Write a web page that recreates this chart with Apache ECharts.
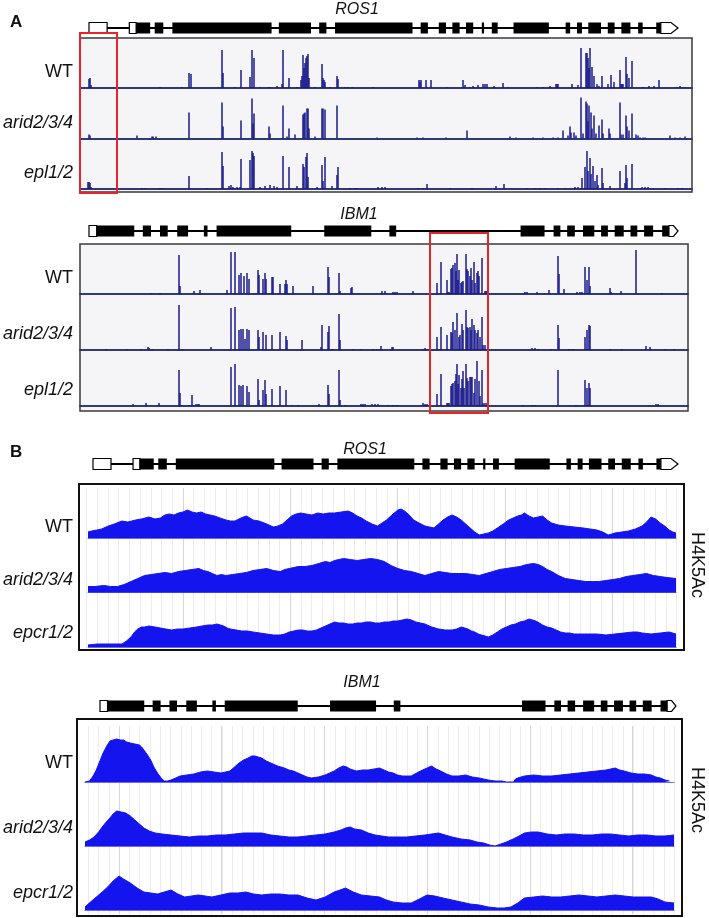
<!DOCTYPE html>
<html><head><meta charset="utf-8">
<script src="https://cdn.jsdelivr.net/npm/echarts@6/dist/echarts.min.js"></script>
<style>html,body{margin:0;padding:0;background:#fff}#c{width:709px;height:918px}</style>
</head><body><div id="c"></div><script>
// ---------- gene structures: [start, end, kind] kind 0=UTR box, 1=CDS exon, 2=3' UTR arrow
const ROS1_LEN = 1300;
const ROS1_EXONS = [[0,40,0],[89,104,0],[104,135,1],[145,164,1],[184,403,1],[419,490,1],[508,524,1],[543,714,1],[732,748,1],[772,788,1],[802,818,1],[832,848,1],[867,872,1],[889,902,1],[937,1015,1],[1052,1062,1],[1077,1088,1],[1102,1130,1],[1145,1160,1],[1175,1195,1],[1212,1222,1],[1252,1262,1],[1262,1300,2]];
const IBM1_LEN = 1302;
const IBM1_EXONS = [[0,17,0],[17,100,1],[119,137,1],[157,174,1],[195,219,1],[254,262,1],[282,447,1],[520,624,1],[664,679,1],[954,1007,1],[1027,1042,1],[1057,1074,1],[1092,1117,1],[1132,1147,1],[1162,1182,1],[1197,1212,1],[1227,1247,1],[1267,1282,1],[1282,1302,2]];

// ---------- panel A : read coverage spikes [position, height]
const ROS1_A_WT = [[9,9],[10,10],[11,3],[80,1],[102,1],[109,15],[111,14],[142,38],[143,15],[155,1],[161,18],[170,11],[172,38],[174,30],[180,1],[188,1],[190,1],[197,2],[202,4],[203,38],[209,10],[217,1],[221,8],[222,12],[223,33],[224,20],[225,25],[226,30],[227,32],[228,34],[229,10],[235,1],[242,24],[243,10],[244,8],[245,6],[250,1],[257,12],[258,9],[265,1],[268,1],[272,1],[293,1],[339,8],[340,6],[341,8],[346,8],[351,8],[367,1],[383,8],[385,3],[390,1],[393,2],[398,3],[403,4],[405,4],[407,4],[414,2],[423,5],[428,1],[457,1],[463,1],[470,2],[476,4],[477,4],[478,4],[492,4],[498,3],[501,40],[506,35],[507,35],[508,30],[509,20],[510,40],[512,21],[514,12],[517,4],[519,2],[522,12],[528,4],[531,13],[534,6],[540,18],[541,4],[542,4],[543,4],[546,31],[547,14],[549,10],[552,27],[563,1],[569,2],[574,2],[579,8],[596,1],[600,2],[605,1]];
const ROS1_A_ARID = [[9,4],[10,3],[57,3],[72,2],[73,2],[76,2],[109,26],[142,36],[143,12],[161,18],[172,40],[173,15],[174,25],[189,12],[190,5],[203,33],[207,2],[209,10],[215,4],[223,24],[224,25],[225,26],[227,30],[228,30],[229,10],[235,2],[242,30],[243,30],[245,29],[257,33],[297,1],[337,1],[343,1],[366,1],[387,8],[430,2],[436,1],[453,1],[463,1],[473,1],[478,1],[483,8],[488,3],[490,12],[491,6],[494,6],[496,3],[501,41],[503,5],[506,37],[507,35],[508,17],[509,33],[511,26],[512,10],[514,23],[516,5],[519,13],[522,19],[523,5],[529,10],[530,5],[540,36],[541,4],[543,4],[546,23],[547,12],[549,8],[552,25],[556,4],[558,3],[560,1],[563,1],[565,1],[590,3],[595,1],[600,1],[605,2]];
const ROS1_A_EPL = [[8,7],[9,7],[10,6],[11,2],[62,1],[65,1],[80,1],[83,1],[109,13],[127,1],[142,37],[143,23],[149,3],[151,4],[153,2],[157,2],[160,2],[161,30],[170,29],[172,38],[173,36],[174,33],[180,2],[185,3],[190,4],[194,3],[197,2],[203,33],[209,22],[217,3],[223,25],[224,22],[226,32],[227,36],[228,12],[237,2],[242,24],[243,8],[245,32],[252,3],[257,14],[258,22],[270,1],[275,1],[277,1],[298,2],[302,2],[305,2],[338,1],[343,1],[347,5],[370,1],[392,1],[416,3],[424,5],[447,1],[455,1],[460,1],[465,1],[478,1],[485,1],[490,1],[495,2],[498,2],[502,11],[505,22],[507,38],[508,18],[510,31],[511,15],[513,23],[515,8],[517,14],[518,4],[522,21],[523,6],[530,3],[540,18],[545,6],[546,24],[547,11],[552,25],[562,2],[565,2],[568,2],[573,1],[585,1],[598,1],[602,1]];
const ROS1_A_REGION = [0, 37];

const IBM1_A_WT = [[71,1],[80,1],[99,39],[100,8],[114,3],[120,4],[147,4],[151,42],[155,42],[159,19],[161,21],[164,18],[167,21],[169,15],[178,24],[179,19],[183,15],[185,21],[186,15],[192,17],[193,17],[200,10],[205,10],[206,14],[207,10],[213,8],[233,8],[248,27],[249,17],[259,21],[260,3],[271,6],[272,7],[302,3],[305,3],[313,2],[315,2],[317,2],[333,3],[357,11],[361,32],[367,14],[368,2],[369,2],[371,25],[372,26],[373,29],[375,31],[376,23],[377,40],[378,14],[379,24],[381,11],[382,12],[383,13],[386,40],[387,25],[388,23],[390,18],[391,26],[392,14],[394,32],[395,11],[397,21],[398,23],[399,18],[402,36],[405,3],[406,3],[407,3],[445,2],[447,2],[457,2],[469,4],[478,38],[479,20],[484,5],[497,2],[500,2],[502,2],[505,27],[507,14],[509,27],[510,8],[530,6],[531,2],[541,3],[556,44],[582,1]];
const IBM1_A_ARID = [[26,1],[47,1],[61,1],[68,3],[69,2],[72,1],[88,1],[99,45],[102,1],[131,3],[151,42],[155,43],[159,20],[161,21],[163,21],[165,11],[167,21],[169,20],[178,20],[179,13],[183,18],[186,15],[192,15],[200,18],[206,14],[207,10],[222,10],[241,3],[242,25],[248,18],[249,24],[252,1],[253,1],[259,36],[260,10],[273,1],[281,1],[293,1],[301,4],[312,3],[313,3],[343,1],[345,2],[347,1],[357,13],[361,23],[367,15],[371,18],[372,17],[373,28],[375,20],[377,37],[379,13],[380,15],[382,26],[383,20],[386,40],[387,23],[388,22],[390,23],[391,20],[392,31],[394,25],[395,20],[397,17],[398,20],[400,13],[402,33],[403,5],[405,5],[452,2],[455,2],[458,1],[471,1],[478,25],[479,12],[489,1],[493,1],[505,13],[507,20],[509,25],[510,24],[530,1],[542,1],[566,4],[570,3],[585,1],[594,1]];
const IBM1_A_EPL = [[53,2],[66,3],[79,3],[99,36],[100,13],[102,1],[109,1],[112,11],[116,2],[118,2],[119,2],[151,39],[155,42],[159,21],[161,20],[163,21],[167,20],[169,14],[178,27],[179,6],[183,16],[185,26],[186,12],[192,17],[200,20],[206,16],[212,1],[218,1],[239,2],[248,21],[249,12],[259,36],[260,6],[265,1],[281,2],[283,2],[285,2],[292,2],[295,2],[298,2],[308,1],[313,1],[317,1],[343,3],[345,2],[347,2],[357,12],[361,32],[367,3],[368,3],[369,3],[371,20],[372,22],[373,23],[375,25],[376,32],[377,42],[378,22],[379,31],[381,18],[382,27],[383,35],[384,18],[386,42],[387,28],[388,25],[390,29],[391,29],[392,29],[394,13],[395,27],[397,45],[399,25],[400,10],[402,36],[403,3],[405,3],[407,3],[443,1],[452,1],[455,1],[478,36],[496,1],[505,26],[507,18],[509,23],[510,18],[576,2],[578,2]];
const IBM1_A_REGION = [350, 408];

// ---------- panel B : H4K5Ac ChIP profiles [position, signal]
const ROS1_B_WT = [[0,6],[8,7],[20,8],[30,9],[45,12],[58,14],[75,17],[88,16],[105,18],[118,19],[135,21],[148,19],[160,20],[170,23],[180,24],[190,23],[200,25],[210,26],[220,28],[230,26],[240,25],[250,26],[260,24],[270,23],[280,22],[292,20],[305,18],[315,17],[325,17],[338,20],[350,22],[358,20],[365,18],[378,17],[390,15],[400,13],[410,11],[420,12],[430,14],[440,18],[450,22],[460,24],[470,25],[482,24],[495,23],[508,25],[520,24],[532,25],[545,25],[560,26],[575,27],[585,25],[595,22],[605,20],[615,17],[628,14],[640,12],[650,15],[660,18],[672,23],[685,28],[692,29],[700,27],[710,23],[720,18],[732,15],[745,12],[755,11],[765,10],[775,14],[785,18],[795,21],[805,23],[815,21],[825,18],[835,14],[845,10],[855,6],[865,3],[875,4],[885,5],[895,7],[905,10],[918,14],[930,18],[940,20],[950,22],[958,23],[965,25],[975,22],[985,20],[995,21],[1005,22],[1015,18],[1025,15],[1040,13],[1055,12],[1075,11],[1095,10],[1110,9],[1125,8],[1138,6],[1150,3],[1158,4],[1165,5],[1180,6],[1195,7],[1210,9],[1225,12],[1235,16],[1245,21],[1255,19],[1265,15],[1275,12],[1285,8],[1293,6],[1300,5]];
const ROS1_B_ARID = [[0,6],[15,6],[35,7],[50,6],[65,6],[80,8],[95,11],[110,14],[125,17],[140,18],[155,19],[170,20],[185,19],[200,21],[215,22],[230,23],[245,24],[255,22],[265,21],[275,19],[285,17],[295,18],[305,17],[320,18],[335,19],[350,20],[365,22],[380,23],[395,24],[410,22],[425,21],[435,23],[445,24],[455,25],[465,26],[480,26],[495,27],[510,29],[525,31],[535,30],[545,32],[555,33],[565,34],[580,33],[595,32],[610,33],[625,34],[640,33],[655,31],[670,27],[685,24],[700,22],[715,21],[730,19],[745,17],[760,19],[775,21],[790,20],[805,19],[820,19],[835,19],[850,18],[865,17],[880,19],[895,21],[910,23],[925,24],[940,25],[955,26],[970,28],[985,29],[995,28],[1005,26],[1015,23],[1025,21],[1040,17],[1055,14],[1070,13],[1085,12],[1100,11],[1115,11],[1130,11],[1145,12],[1160,13],[1175,14],[1190,16],[1205,17],[1220,18],[1235,19],[1250,17],[1265,16],[1280,15],[1300,14]];
const ROS1_B_EPCR = [[0,2],[20,3],[40,3],[60,3],[75,3],[85,6],[95,10],[103,15],[110,18],[118,20],[125,20],[135,21],[148,20],[160,19],[172,18],[185,17],[198,18],[210,18],[225,19],[240,20],[252,21],[265,22],[275,22],[285,23],[293,22],[300,21],[308,19],[315,18],[328,17],[340,16],[352,16],[365,15],[380,14],[395,13],[410,12],[425,12],[435,13],[445,15],[455,16],[465,17],[475,17],[485,16],[495,16],[505,17],[515,19],[525,21],[535,23],[545,25],[555,24],[565,24],[575,23],[585,23],[595,24],[605,24],[615,25],[625,25],[635,24],[645,24],[655,25],[665,25],[675,26],[685,26],[695,27],[705,28],[715,27],[725,25],[735,24],[745,23],[760,20],[775,18],[790,17],[805,17],[815,18],[825,20],[833,19],[840,18],[848,16],[855,15],[863,13],[870,12],[878,11],[885,10],[895,12],[905,15],[915,18],[925,20],[935,22],[945,23],[955,25],[965,26],[975,28],[983,27],[990,26],[998,24],[1005,22],[1015,20],[1025,19],[1035,17],[1045,15],[1055,14],[1065,14],[1075,13],[1085,13],[1105,13],[1125,13],[1145,12],[1165,13],[1185,14],[1205,15],[1215,15],[1225,14],[1245,13],[1265,14],[1285,15],[1300,13]];
const IBM1_B_WT = [[0,0],[10,1],[18,6],[25,12],[32,20],[40,29],[48,36],[55,41],[62,42],[70,43],[78,42],[85,42],[92,40],[100,39],[110,38],[120,37],[125,35],[130,32],[138,27],[145,22],[152,15],[160,9],[168,4],[175,1],[182,1],[190,2],[200,4],[210,6],[225,7],[240,8],[255,10],[270,11],[285,10],[300,9],[310,10],[320,11],[330,15],[340,19],[350,22],[360,24],[368,26],[375,26],[382,25],[390,24],[400,21],[410,19],[425,16],[440,14],[450,12],[460,11],[470,9],[480,7],[490,5],[500,4],[515,5],[530,7],[540,9],[550,11],[560,14],[570,16],[578,15],[585,13],[592,12],[600,11],[612,12],[625,12],[638,13],[650,14],[660,12],[670,10],[680,9],[690,7],[700,6],[710,6],[720,6],[732,9],[745,12],[755,14],[765,16],[775,13],[785,11],[798,8],[810,6],[825,6],[840,7],[855,5],[870,4],[880,3],[890,2],[905,1],[920,1],[930,0],[946,0],[950,3],[955,4],[970,6],[990,7],[1010,6],[1030,6],[1050,7],[1070,8],[1090,9],[1110,10],[1130,11],[1150,12],[1160,13],[1170,14],[1180,12],[1190,11],[1205,9],[1220,8],[1235,8],[1250,7],[1260,5],[1270,4],[1280,2],[1290,1]];
const IBM1_B_ARID = [[0,4],[10,6],[20,9],[30,14],[38,19],[45,23],[55,28],[62,32],[70,35],[80,34],[90,33],[100,30],[110,26],[120,22],[130,18],[142,15],[155,13],[170,12],[190,11],[210,10],[230,9],[250,10],[270,10],[290,11],[310,11],[330,12],[350,13],[370,13],[390,13],[410,11],[430,10],[450,9],[470,9],[490,10],[510,11],[530,12],[550,14],[565,16],[575,18],[585,19],[595,17],[610,16],[625,13],[640,11],[655,10],[670,9],[690,9],[710,9],[730,10],[750,11],[765,12],[780,13],[795,11],[810,9],[830,7],[850,6],[865,4],[880,3],[893,1],[905,0],[918,2],[930,4],[945,7],[958,10],[970,13],[985,14],[1000,14],[1020,12],[1040,11],[1060,12],[1080,12],[1100,11],[1120,11],[1140,12],[1160,12],[1180,11],[1200,10],[1220,11],[1240,11],[1260,10],[1280,10],[1300,11]];
const IBM1_B_EPCR = [[0,3],[12,8],[25,13],[38,18],[50,23],[62,29],[75,34],[85,31],[100,27],[115,22],[130,18],[145,17],[160,16],[175,18],[190,20],[205,16],[220,13],[235,14],[250,15],[265,14],[280,13],[300,15],[320,17],[338,17],[355,18],[372,16],[390,15],[410,16],[430,16],[450,15],[470,15],[490,12],[510,10],[530,13],[550,18],[563,20],[575,22],[592,18],[610,15],[630,14],[650,13],[665,10],[680,8],[700,7],[720,7],[738,11],[755,15],[772,14],[790,12],[810,10],[830,8],[850,6],[870,5],[890,3],[910,2],[925,2],[940,3],[955,7],[970,12],[990,13],[1010,14],[1030,13],[1050,13],[1070,14],[1090,15],[1110,14],[1130,13],[1150,14],[1170,15],[1190,14],[1210,13],[1230,13],[1250,13],[1265,11],[1280,8],[1300,7]];

const TRACK_NAMES_A = ['WT', 'arid2/3/4', 'epl1/2'];
const TRACK_NAMES_B = ['WT', 'arid2/3/4', 'epcr1/2'];
const MARK_LABEL = 'H4K5Ac';

// ---------- layout (pixels)
const FONT = '"Liberation Sans", Arial, sans-serif';
const BAR_C = '#1a1a8c', BASE_C = '#313779', AREA_C = '#1414ee';

const grids = [], xAxes = [], yAxes = [], series = [], graphics = [];
function addGrid(g, x, y) {
  const i = grids.length;
  grids.push(Object.assign({containLabel:false, show:false}, g));
  xAxes.push(Object.assign({gridIndex:i, type:'value', show:false}, x));
  yAxes.push(Object.assign({gridIndex:i, type:'value', show:false}, y));
  return i;
}
function text(str, x, y, opt) {
  graphics.push(Object.assign({type:'text', x, y, z:100, silent:true,
    style:Object.assign({text:str, fill:'#111', font:'18px ' + FONT, textAlign:'right', textVerticalAlign:'middle', verticalAlign:'middle'}, opt && opt.style)},
    opt && opt.rotation !== undefined ? {rotation:opt.rotation} : {}));
}
function geneModel(exons, len, left, width, cy) {
  const gi = addGrid({left, width, top:cy - 8, height:16}, {min:0, max:len}, {min:-1, max:1});
  series.push({type:'line', xAxisIndex:gi, yAxisIndex:gi, data:[[0,0],[len,0]], symbol:'none', silent:true, animation:false,
    lineStyle:{color:'#000', width:2}, z:2});
  series.push({type:'custom', xAxisIndex:gi, yAxisIndex:gi, data:exons, silent:true, animation:false, z:3,
    renderItem(params, api) {
      const s = api.value(0), e = api.value(1), k = api.value(2);
      const p0 = api.coord([s, 0]), p1 = api.coord([e, 0]);
      const h = 11, y = p0[1];
      if (k === 2) {
        const tip = Math.min(7, (p1[0] - p0[0]) * 0.5);
        return {type:'polygon', shape:{points:[[p0[0], y - h/2], [p1[0] - tip, y - h/2], [p1[0], y], [p1[0] - tip, y + h/2], [p0[0], y + h/2]]},
          style:{fill:'#fff', stroke:'#000', lineWidth:1.2}};
      }
      return {type:'rect', shape:{x:p0[0], y:y - h/2, width:p1[0] - p0[0], height:h},
        style: k === 1 ? {fill:'#000'} : {fill:'#fff', stroke:'#000', lineWidth:1.2}};
    }});
}
function frame(left, top, width, height, bg, border, bw) {
  addGrid({left, top, width, height, show:true, backgroundColor:bg, borderColor:border, borderWidth:bw, z:0}, {min:0, max:1}, {min:0, max:1});
}
function barTrack(data, xmax, left, width, top, height, ymax) {
  const gi = addGrid({left, width, top, height},
    {min:0, max:xmax, show:true, axisLabel:{show:false}, axisTick:{show:false}, splitLine:{show:false},
     axisLine:{show:true, onZero:true, lineStyle:{color:BASE_C, width:2}}},
    {min:0, max:ymax});
  series.push({type:'bar', xAxisIndex:gi, yAxisIndex:gi, data, barWidth:1.5, silent:true, animation:false,
    itemStyle:{color:BAR_C}, z:3});
}
function areaTrack(data, xmax, left, width, top, height, ymax) {
  const gi = addGrid({left, width, top, height},
    {min:0, max:xmax, show:true, axisLabel:{show:false}, axisTick:{show:false}, splitLine:{show:false},
     axisLine:{show:true, onZero:true, lineStyle:{color:'#6a6af0', width:1}}},
    {min:0, max:ymax});
  series.push({type:'line', xAxisIndex:gi, yAxisIndex:gi, data, symbol:'none', silent:true, animation:false,
    lineStyle:{color:AREA_C, width:1}, areaStyle:{color:AREA_C, opacity:1}, z:3});
}
function gridLines(left, width, top, height, max, color, showMin) {
  addGrid({left, width, top, height},
    {min:0, max, interval:1, show:true, axisLine:{show:false}, axisTick:{show:false}, axisLabel:{show:false},
     splitLine:{show:true, showMinLine:showMin, showMaxLine:false, lineStyle:{color, width:1}}},
    {min:0, max:1});
}
function regionBox(region, xmax, left, width, top, height) {
  const gi = addGrid({left, width, top, height}, {min:0, max:xmax}, {min:0, max:1});
  series.push({type:'custom', xAxisIndex:gi, yAxisIndex:gi, data:[region], silent:true, animation:false, z:20,
    renderItem(params, api) {
      const a = api.coord([api.value(0), 1]), b = api.coord([api.value(1), 0]);
      return {type:'rect', shape:{x:a[0], y:a[1], width:b[0] - a[0], height:b[1] - a[1]},
        style:{fill:null, stroke:'#e4262a', lineWidth:2}};
    }});
}

// ===== Panel A: ROS1
text('A', 10, 22, {style:{font:'bold 17px ' + FONT, textAlign:'left'}});
text('ROS1', 357, 10, {style:{font:'italic 16px ' + FONT, textAlign:'center'}});
geneModel(ROS1_EXONS, ROS1_LEN, 89, 589, 28);
frame(80, 38, 612, 154, '#f5f5f8', '#3a3a3a', 1.5);
[ROS1_A_WT, ROS1_A_ARID, ROS1_A_EPL].forEach((d, i) => barTrack(d, 612, 80, 612, 40 + i * 50.5, 48, 48));
TRACK_NAMES_A.forEach((n, i) => text(n, 73, 72 + i * 50.5, {style:{font:(i ? 'italic ' : '') + '18px ' + FONT}}));
regionBox(ROS1_A_REGION, 612, 80, 612, 33, 160);

// ===== Panel A: IBM1
text('IBM1', 359, 215, {style:{font:'italic 16px ' + FONT, textAlign:'center'}});
geneModel(IBM1_EXONS, IBM1_LEN, 89, 589, 231);
frame(80, 244, 608, 167, '#f5f5f8', '#3a3a3a', 1.5);
[IBM1_A_WT, IBM1_A_ARID, IBM1_A_EPL].forEach((d, i) => barTrack(d, 608, 80, 608, 246 + i * 56, 48, 48));
TRACK_NAMES_A.forEach((n, i) => text(n, 73, 278 + i * 56, {style:{font:(i ? 'italic ' : '') + '18px ' + FONT}}));
regionBox(IBM1_A_REGION, 608, 80, 608, 233, 180);

// ===== Panel B: ROS1
text('B', 10, 452, {style:{font:'bold 17px ' + FONT, textAlign:'left'}});
text('ROS1', 365, 450, {style:{font:'italic 16px ' + FONT, textAlign:'center'}});
geneModel(ROS1_EXONS, ROS1_LEN, 93, 585, 464);
frame(79, 484, 605, 166, '#ffffff', '#111', 2);
gridLines(86.4, 596.6, 488, 160, 55.6, '#ececec', true);
gridLines(183, 500, 488, 160, 4.66, '#d6d6d6', true);
[ROS1_B_WT, ROS1_B_ARID, ROS1_B_EPCR].forEach((d, i) => areaTrack(d, 1300, 88, 588, 488 + i * 54.5, 50, 50));
TRACK_NAMES_B.forEach((n, i) => text(n, 73, 527 + i * 53, {style:{font:(i ? 'italic ' : '') + '18px ' + FONT}}));
text(MARK_LABEL, 697, 565, {rotation:-Math.PI / 2, style:{font:'18px ' + FONT, textAlign:'center'}});

// ===== Panel B: IBM1
text('IBM1', 362, 683, {style:{font:'italic 16px ' + FONT, textAlign:'center'}});
geneModel(IBM1_EXONS, IBM1_LEN, 100, 576, 706);
frame(77, 719, 605, 197, '#ffffff', '#111', 2);
gridLines(78, 604, 726, 188, 58.75, '#ececec', false);
gridLines(119, 563, 726, 188, 5.48, '#d6d6d6', true);
[IBM1_B_WT, IBM1_B_ARID, IBM1_B_EPCR].forEach((d, i) => areaTrack(d, 1300, 85, 589, 722 + i * 64, 60, 60));
TRACK_NAMES_B.forEach((n, i) => text(n, 73, 763 + i * 65, {style:{font:(i ? 'italic ' : '') + '18px ' + FONT}}));
text(MARK_LABEL, 697, 800, {rotation:-Math.PI / 2, style:{font:'18px ' + FONT, textAlign:'center'}});

const chart = echarts.init(document.getElementById('c'), null, {renderer:'canvas'});
chart.setOption({animation:false, backgroundColor:'#fff', grid:grids, xAxis:xAxes, yAxis:yAxes, series, graphic:graphics});
</script></body></html>
